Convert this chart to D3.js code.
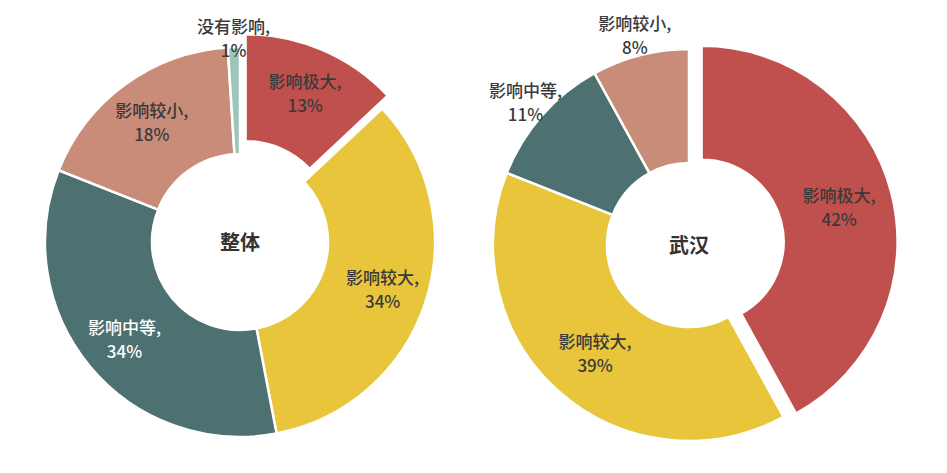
<!DOCTYPE html>
<html><head><meta charset="utf-8">
<script src="https://cdn.jsdelivr.net/npm/d3@7"></script>
<style>body{margin:0;background:#fff}text{font-family:"Noto Sans CJK SC","Noto Sans",sans-serif}</style>
</head><body><svg width="947" height="473"></svg>
<script>
const categoriesLeft = ["影响极大","影响较大","影响中等","影响较小","没有影响"];
const valuesLeft = [13,34,34,18,1];
const categoriesRight = ["影响极大","影响较大","影响中等","影响较小"];
const valuesRight = [42,39,11,8];
const colorMap = {"影响极大":"#c0504d","影响较大":"#e8c53a","影响中等":"#4d7070","影响较小":"#c88c78","没有影响":"#9fc5bb"};
const svg = d3.select("svg");
function donut(cx, cy, R, r, cats, vals, title, explode, outR, inR){
  const g = svg.append("g").attr("transform",`translate(${cx},${cy})`);
  const pie = d3.pie().sort(null).value(d=>d.v);
  const data = pie(cats.map((c,i)=>({c, v:vals[i]})));
  const arc = d3.arc().innerRadius(r).outerRadius(R);
  data.forEach((d,i)=>{
    const m=(d.startAngle+d.endAngle)/2, off=i===0?explode:0;
    const dx=Math.sin(m)*off, dy=-Math.cos(m)*off;
    g.append("path").attr("d",arc(d)).attr("fill",colorMap[d.data.c])
     .attr("stroke","#fff").attr("stroke-width",2.5).attr("transform",`translate(${dx},${dy})`);
    const lr = d.data.v<12 ? outR : inR;
    const x=Math.sin(m)*lr+dx, y=-Math.cos(m)*lr+dy;
    const col = (d.data.c==="影响中等" && d.data.v>=12) ? "#fff" : "#3a3a3a";
    const t=g.append("text").attr("text-anchor","middle").attr("fill",col).attr("font-size",17).attr("font-weight",500);
    t.append("tspan").attr("x",x).attr("y",y-4).text(d.data.c+",");
    t.append("tspan").attr("x",x).attr("y",y+20).text(d.data.v+"%");
  });
  g.append("text").attr("text-anchor","middle").attr("y",8).attr("font-size",20)
   .attr("font-weight","bold").attr("fill","#333").text(title);
}
donut(240,242,195,88,categoriesLeft,valuesLeft,"整体",14,205,150);
donut(689,245,196,82,categoriesRight,valuesRight,"武汉",13,218,142);
</script></body></html>
